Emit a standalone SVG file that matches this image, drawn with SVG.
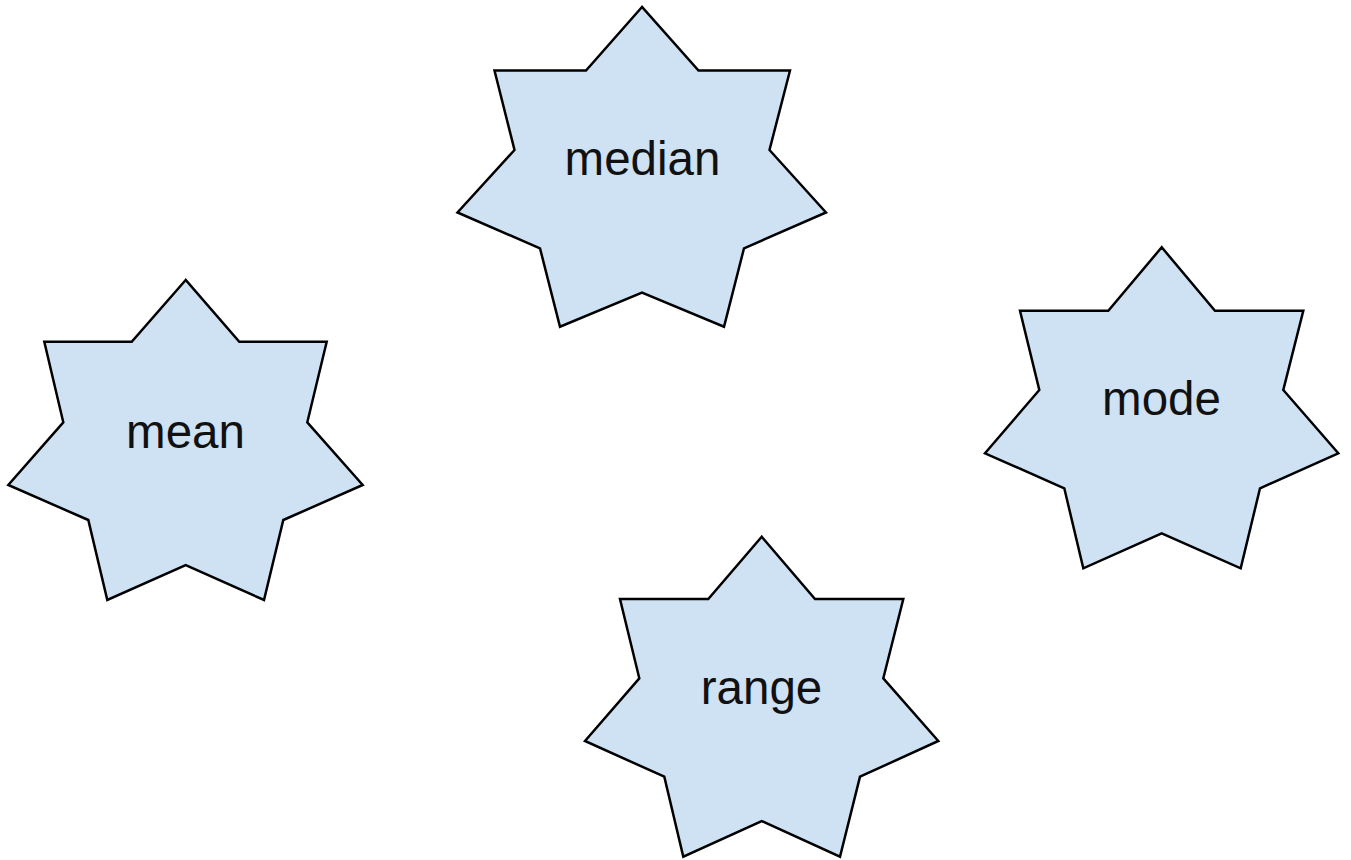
<svg xmlns="http://www.w3.org/2000/svg" width="1351" height="860" viewBox="0 0 1351 860">
<style>
.star{fill:#cfe2f3;stroke:#000;stroke-width:2.5;stroke-linejoin:miter}
.lbl{font-family:"Liberation Sans",Arial,sans-serif;font-size:47.5px;fill:#111;text-anchor:middle}
</style>
<rect width="1351" height="860" fill="#fff"/>
<g id="connectors"></g>
<g id="median">
<polygon class="star" points="642,7 586,70.5 494.5,70.5 514.5,150 457.5,212.5 540,248.3 560,326.7 642,292.7 724,326.7 744,248.3 826,212.5 769.5,150 790,70.5 698.5,70.5"/>
<text class="lbl" x="642.5" y="175">median</text>
</g>
<g id="mean">
<polygon class="star" points="185.7,280 131.7,341.7 44.3,341.7 63.3,422.3 8.3,485 88.3,520 107.3,600 185.7,565 264,600 283.3,520 362.7,485 307.3,422.3 326.7,341.7 239.3,341.7"/>
<text class="lbl" x="185.5" y="447.7">mean</text>
</g>
<g id="mode">
<polygon class="star" points="1161.7,247.3 1108.3,310.7 1020,310.7 1039.3,390 985,453.3 1064.3,488.3 1083.3,568.3 1161.7,533.3 1240.7,568.3 1260,488.3 1338.3,453.3 1283.3,390 1303.3,310.7 1215,310.7"/>
<text class="lbl" x="1161.5" y="415">mode</text>
</g>
<g id="range">
<polygon class="star" points="761.7,536.7 708.3,599 620,599 639.3,678.3 585,741 664.3,776.7 683.3,856.7 761.7,821 840,856.7 860,776.7 938.3,741 883.3,678.3 903.3,599 815,599"/>
<text class="lbl" x="761.5" y="703.5">range</text>
</g>
</svg>
